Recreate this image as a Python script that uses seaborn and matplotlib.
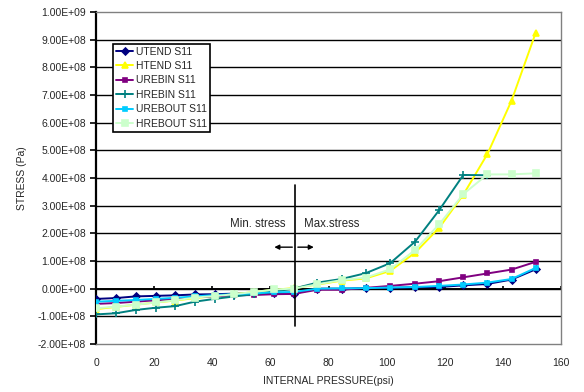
import numpy as np
import pandas as pd
import matplotlib
matplotlib.use("Agg")
import matplotlib.pyplot as plt
import seaborn as sns

# ---- data (stress in units of 1e8 Pa) ----
pressure = [0, 6.8, 13.6, 20.5, 27.3, 34.0, 40.8, 47.6, 54.4, 61.2, 68.0,
            76.2, 84.5, 92.8, 101.2, 109.8, 118.1, 126.4, 134.7, 143.0, 151.3]

utend = [-0.37, -0.34, -0.28, -0.26, -0.24, -0.21, -0.20, -0.18, -0.17, -0.16, -0.18,
         0.0, 0.0, 0.02, 0.03, 0.05, 0.06, 0.12, 0.17, 0.33, 0.70]
htend = [-0.74, -0.66, -0.58, -0.50, -0.43, -0.34, -0.27, -0.20, -0.12, -0.04, 0.02,
         0.15, 0.29, 0.37, 0.64, 1.30, 2.20, 3.40, 4.87, 6.80, 9.25]
urebin = [-0.55, -0.52, -0.47, -0.42, -0.38, -0.31, -0.28, -0.24, -0.23, -0.20, -0.19,
          -0.04, -0.04, 0.03, 0.10, 0.18, 0.27, 0.41, 0.55, 0.69, 0.97]
hrebin = [-0.93, -0.89, -0.77, -0.69, -0.63, -0.47, -0.37, -0.28, -0.20, -0.10, 0.0,
          0.22, 0.35, 0.56, 0.92, 1.70, 2.84, 4.11, 4.10]
urebout = [-0.47, -0.44, -0.41, -0.37, -0.33, -0.28, -0.23, -0.20, -0.17, -0.13, -0.12,
           0.0, 0.01, 0.02, 0.04, 0.06, 0.10, 0.15, 0.22, 0.35, 0.75]
hrebout = [-0.71, -0.65, -0.58, -0.50, -0.42, -0.32, -0.27, -0.20, -0.12, -0.03, 0.0,
           0.16, 0.31, 0.40, 0.70, 1.40, 2.33, 3.42, 4.13, 4.13, 4.17]

series_names = ["UTEND S11", "HTEND S11", "UREBIN S11", "HREBIN S11", "UREBOUT S11", "HREBOUT S11"]
series_vals = [utend, htend, urebin, hrebin, urebout, hrebout]
colors = ["#000080", "#FFFF00", "#800080", "#008080", "#00CCFF", "#CCFFCC"]
markers = ["D", "^", "s", "+", "s", "s"]
msizes = [3.5, 4, 3.5, 6, 3.5, 4.8]

yticks = np.arange(-2, 10.01, 1)
ytick_labels = ["-2.00E+08", "-1.00E+08", "0.00E+00", "1.00E+08", "2.00E+08", "3.00E+08",
                "4.00E+08", "5.00E+08", "6.00E+08", "7.00E+08", "8.00E+08", "9.00E+08", "1.00E+09"]
xticks = [0, 20, 40, 60, 80, 100, 120, 140, 160]

rows = []
for name, vals in zip(series_names, series_vals):
    for p, v in zip(pressure, vals):
        rows.append({"series": name, "pressure": p, "stress": v * 1e8})
df = pd.DataFrame(rows)

sns.set_theme(style="white")
plt.rcParams["font.family"] = ["Liberation Sans", "DejaVu Sans"]
fs = 7.5

fig = plt.figure(figsize=(5.84, 3.92), dpi=100)
ax = fig.add_axes([96 / 584, 48 / 392, (561 - 96) / 584, (344 - 12) / 392])

# gridlines
for t in yticks[1:-1]:
    ax.axhline(t * 1e8, color="black", lw=1.0, zorder=1)

for name, c, m, ms in zip(series_names, colors, markers, msizes):
    sub = df[df["series"] == name]
    sns.lineplot(data=sub, x="pressure", y="stress", ax=ax, color=c, lw=1.4,
                 marker=m, markersize=ms, markeredgecolor=c, markerfacecolor=c,
                 markeredgewidth=1.2, label=name, zorder=3, estimator=None, sort=False)

ax.set_xlim(0, 160)
ax.set_ylim(-2e8, 10e8)
ax.set_yticks(yticks * 1e8)
ax.set_yticklabels(ytick_labels, fontsize=fs)
ax.set_xticks(xticks)
ax.set_xticklabels([str(x) for x in xticks], fontsize=fs)
ax.tick_params(axis="y", direction="out", length=4, width=1.2, color="black", pad=3, left=True)
ax.tick_params(axis="x", length=0, pad=10)

for s in ["top", "right", "bottom"]:
    ax.spines[s].set_color("#808080")
    ax.spines[s].set_linewidth(1.0)
ax.spines["left"].set_color("black")
ax.spines["left"].set_linewidth(1.6)

# x axis line at y = 0 with upward tick marks
ax.axhline(0, color="black", lw=1.4, zorder=2)
for t in xticks[1:]:
    ax.plot([t, t], [0, 0.11e8], color="black", lw=1.2, zorder=2, solid_capstyle="butt")

# divider line and annotations
afs = 8.3
ax.plot([68.5, 68.5], [-1.34e8, 3.75e8], color="black", lw=1.2, zorder=4)
ax.text(65.2, 2.34e8, "Min. stress", fontsize=afs, ha="right", va="center")
ax.text(71.6, 2.34e8, "Max.stress", fontsize=afs, ha="left", va="center")
ax.annotate("", xy=(60.4, 1.5e8), xytext=(68.5, 1.5e8),
            arrowprops=dict(arrowstyle="-|>", color="black", lw=1.0, mutation_scale=7))
ax.annotate("", xy=(75.9, 1.5e8), xytext=(68.5, 1.5e8),
            arrowprops=dict(arrowstyle="-|>", color="black", lw=1.0, mutation_scale=7))

ax.set_xlabel("INTERNAL PRESSURE(psi)", fontsize=fs, labelpad=6)
ax.set_ylabel("STRESS (Pa)", fontsize=fs, labelpad=8)

leg = ax.legend(loc="upper left", bbox_to_anchor=(0.037, 0.905), fontsize=fs,
                frameon=True, fancybox=False, edgecolor="black", framealpha=1,
                handlelength=1.6, handletextpad=0.3, labelspacing=0.42,
                borderpad=0.3, borderaxespad=0)
leg.get_frame().set_linewidth(1.2)

fig.savefig("out.png", dpi=100)
